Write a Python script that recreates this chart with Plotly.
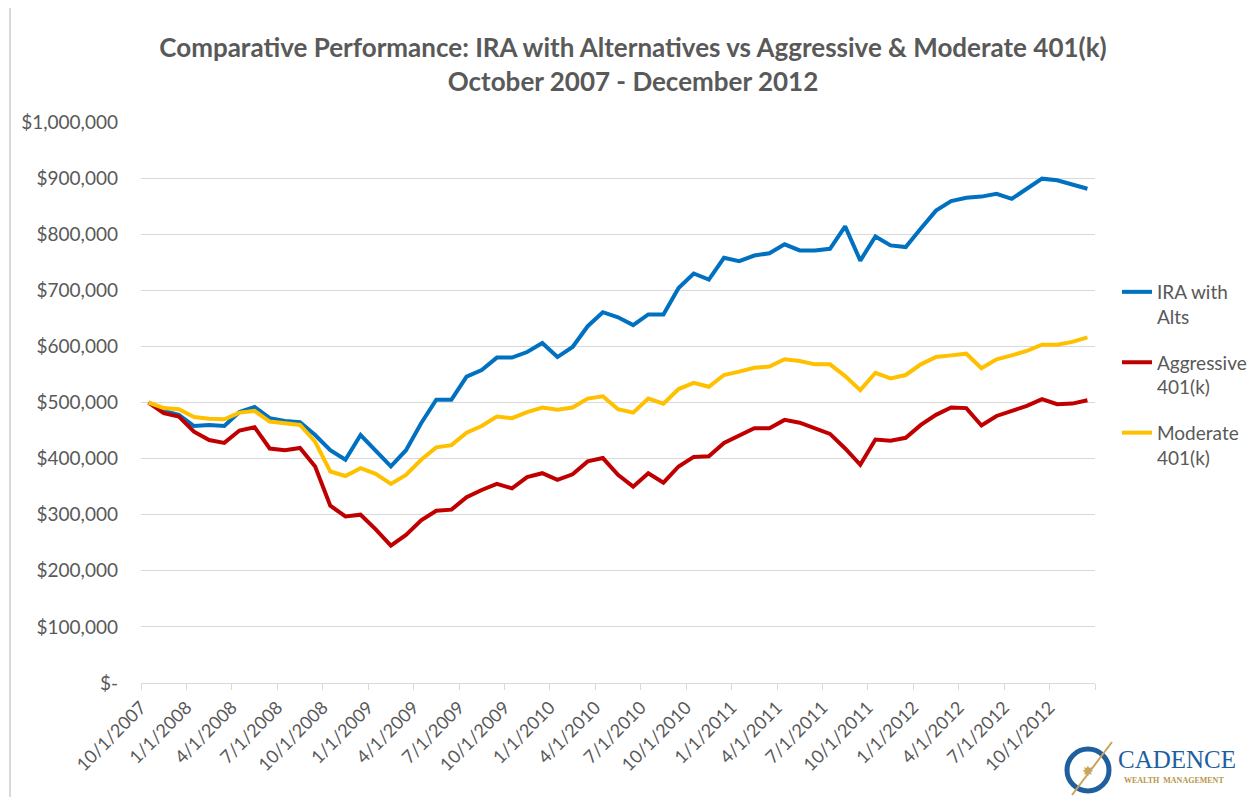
import plotly.graph_objects as go
import pandas as pd

# ---- data (in $ thousands) ----
months = [d.strftime("%-m/%-d/%Y") for d in pd.date_range("2007-10-01", "2012-12-01", freq="MS")]

ira_with_alts = [500, 485, 478, 458, 460, 458, 483, 492, 472, 467, 465, 442, 415, 398, 442, 414,
                 386, 415, 463, 505, 505, 546, 558, 580, 580, 590, 606, 581, 599, 636, 661, 652,
                 638, 657, 657, 704, 730, 719, 758, 752, 762, 766, 782, 771, 771, 774, 814, 753,
                 796, 780, 777, 810, 842, 859, 865, 867, 872, 863, 881, 899, 896, 889, 881]
aggressive_401k = [500, 481, 475, 448, 433, 428, 450, 456, 418, 415, 419, 386, 316, 297, 300, 274,
                   245, 264, 290, 307, 309, 331, 344, 355, 347, 367, 374, 362, 372, 395, 401, 371,
                   350, 374, 357, 386, 403, 404, 428, 442, 454, 454, 469, 464, 454, 444, 418, 389,
                   434, 432, 437, 460, 478, 491, 490, 459, 476, 485, 494, 506, 497, 498, 504]
moderate_401k = [500, 490, 488, 474, 471, 470, 482, 485, 466, 463, 460, 430, 377, 369, 383, 373,
                 355, 371, 398, 420, 424, 446, 458, 475, 472, 483, 491, 487, 491, 507, 511, 488,
                 482, 507, 498, 524, 535, 528, 549, 555, 562, 564, 577, 574, 568, 568, 547, 522,
                 553, 543, 549, 568, 581, 584, 587, 561, 577, 584, 592, 603, 603, 608, 616]

quarter_labels = ["10/1/2007", "1/1/2008", "4/1/2008", "7/1/2008", "10/1/2008", "1/1/2009",
                  "4/1/2009", "7/1/2009", "10/1/2009", "1/1/2010", "4/1/2010", "7/1/2010",
                  "10/1/2010", "1/1/2011", "4/1/2011", "7/1/2011", "10/1/2011", "1/1/2012",
                  "4/1/2012", "7/1/2012", "10/1/2012"]

y_tick_values = [0, 100000, 200000, 300000, 400000, 500000, 600000, 700000, 800000, 900000, 1000000]
y_tick_labels = ["$-", "$100,000", "$200,000", "$300,000", "$400,000", "$500,000", "$600,000",
                 "$700,000", "$800,000", "$900,000", "$1,000,000"]

series = [
    ("IRA with<br>Alts", ira_with_alts, "#0070C0"),
    ("Aggressive<br>401(k)", aggressive_401k, "#C00000"),
    ("Moderate<br>401(k)", moderate_401k, "#FFC000"),
]

x_idx = list(range(len(months)))
# each month occupies one slot; quarter ticks sit at slot boundaries
tick_pos = [months.index(lbl) - 0.5 for lbl in quarter_labels] + [len(months) - 0.5]
tick_txt = quarter_labels + [""]

FONT = "Lato"
GRAY = "#595959"

fig = go.Figure()
for i, (name, vals, color) in enumerate(series):
    fig.add_trace(go.Scatter(
        x=x_idx, y=[v * 1000 for v in vals], mode="lines", name=name,
        line=dict(color=color, width=4), legendgroup=f"g{i}",
        customdata=months, hovertemplate="%{customdata}: $%{y:,.0f}<extra></extra>",
    ))

# page geometry (the html body adds an 8px margin on every side)
OFF = 8
PAGE_W, PAGE_H = 1255, 805
L, R, T, B = 141, 1095, 122, 683          # plot area in page pixels
W, H = PAGE_W - 2 * OFF, PAGE_H - 2 * OFF


def px(xp):
    return (xp - L) / (R - L)


def py(yp):
    return (B - yp) / (B - T)


shapes = [
    dict(type="line", xref="paper", yref="paper", x0=px(10), x1=px(10), y0=py(797), y1=py(8),
         line=dict(color="#d9d9d9", width=2)),
    # logo ring
    dict(type="circle", xref="paper", yref="paper", x0=px(1067), x1=px(1109), y0=py(791), y1=py(749),
         line=dict(color="#1f5f9e", width=5)),
    dict(type="line", xref="paper", yref="paper", x0=px(1072), x1=px(1112), y0=py(795), y1=py(742),
         line=dict(color="#c9a55a", width=2)),
]

annotations = [
    dict(text="CADENCE", xref="paper", yref="paper", x=px(1116), y=py(759), xanchor="left",
         yanchor="middle", showarrow=False,
         font=dict(family="Liberation Serif", size=25, color="#1f5f9e")),
    dict(text="WEALTH  MANAGEMENT", xref="paper", yref="paper", x=px(1122), y=py(780), xanchor="left",
         yanchor="middle", showarrow=False,
         font=dict(family="Liberation Serif", size=8, color="#b8964a", weight="bold")),
    dict(text="✸", xref="paper", yref="paper", x=px(1088), y=py(770), xanchor="center",
         yanchor="middle", showarrow=False, font=dict(size=14, color="#c9a55a")),
]

fig.update_layout(
    width=W, height=H,
    margin=dict(l=L - OFF, r=W - (R - OFF), t=T - OFF, b=H - (B - OFF), autoexpand=False),
    paper_bgcolor="white", plot_bgcolor="white",
    font=dict(family=FONT, color=GRAY, size=18),
    title=dict(
        text="Comparative Performance: IRA with Alternatives vs Aggressive & Moderate 401(k)<br>October 2007 - December 2012",
        x=(633 - OFF) / W, xanchor="center", y=1 - (57 - OFF) / H, yanchor="middle",
        font=dict(family=FONT, size=26, color=GRAY, weight="bold"),
    ),
    xaxis=dict(
        range=[-0.5, len(months) - 0.5], tickmode="array", tickvals=tick_pos, ticktext=tick_txt,
        tickangle=-45, showgrid=False, zeroline=False, showline=True, linecolor="#d9d9d9",
        linewidth=1, ticks="outside", tickcolor="#d9d9d9", ticklen=6,
        tickfont=dict(family=FONT, size=18, color=GRAY),
    ),
    yaxis=dict(
        range=[0, 1000000], tickmode="array", tickvals=y_tick_values, ticktext=y_tick_labels,
        showgrid=True, gridcolor="#d9d9d9", gridwidth=1, zeroline=False, showline=False,
        ticks="", ticklabelstandoff=22,
        tickfont=dict(family=FONT, size=19, color=GRAY),
    ),
    legend=dict(
        x=px(1117), y=py(273), xanchor="left", yanchor="top", valign="top",
        font=dict(family=FONT, size=19, color=GRAY), tracegroupgap=18,
        bgcolor="rgba(0,0,0,0)",
    ),
    shapes=shapes, annotations=annotations,
)

fig.write_html("out.html")
